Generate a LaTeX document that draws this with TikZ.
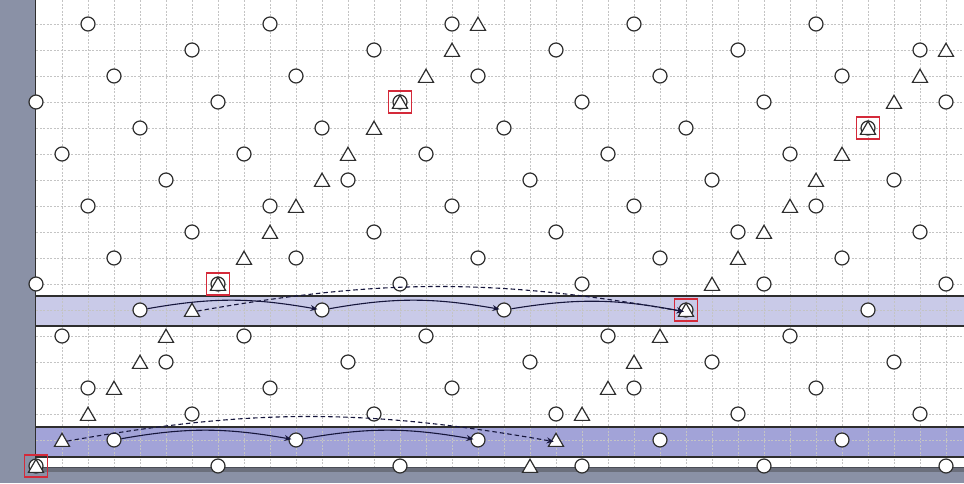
\documentclass[tikz,border=0pt]{standalone}
\usetikzlibrary{shapes.geometric,arrows.meta}
\definecolor{sidegray}{HTML}{8A91A6}
\definecolor{darkstrip}{HTML}{6B6F7C}
\definecolor{bandA}{HTML}{C9CAE8}
\definecolor{bandB}{HTML}{A2A3D8}
\definecolor{edgec}{HTML}{2E2E2E}
\definecolor{boxred}{HTML}{D42A3A}
\definecolor{flowc}{HTML}{16163C}
\definecolor{gridc}{HTML}{C4C4C4}
\begin{document}
\begin{tikzpicture}[x=1pt,y=-1pt,
  dot/.style={circle,draw=edgec,line width=1.2pt,fill=white,minimum size=14pt,inner sep=0pt},
  tri/.style={regular polygon,regular polygon sides=3,draw=edgec,line width=1.2pt,fill=white,minimum size=17.5pt,inner sep=0pt,yshift=-2pt},
  redbox/.style={rectangle,draw=boxred,color=boxred,line width=1.4pt,minimum width=23pt,minimum height=22pt,inner sep=0pt},
  gridl/.style={draw=gridc,line width=0.6pt,dash pattern=on 2pt off 1.5pt},
  bandline/.style={draw=edgec,line width=1.4pt},
  flow/.style={-{Stealth[length=7pt,width=6pt]},draw=flowc,line width=1.1pt,shorten >=-3pt},
  flowd/.style={flow,dash pattern=on 4.5pt off 3pt}]
\useasboundingbox (0,0) rectangle (964,483);
% background
\fill[white] (0,0) rectangle (964,483);
\fill[sidegray] (0,0) rectangle (35,483);
\fill[sidegray] (0,471) rectangle (964,483);
\fill[darkstrip] (35,467) rectangle (964,472);
% bands
\fill[bandA] (36,296) rectangle (964,326);
\fill[bandB] (36,427) rectangle (964,457);
% grid
\foreach \k in {1,...,35} { \draw[gridl] ({36+26*\k},0) -- ({36+26*\k},467); }
\foreach \k in {0,...,16} { \draw[gridl] (36,{24+26*\k}) -- (964,{24+26*\k}); }
% band borders and frame
\draw[bandline] (36,296) -- (964,296);
\draw[bandline] (36,326) -- (964,326);
\draw[bandline] (36,427) -- (964,427);
\draw[bandline] (36,457) -- (964,457);
\draw[draw=edgec,line width=1.6pt] (35.5,0) -- (35.5,467);
\draw[draw=darkstrip!70!black,line width=1pt] (35,467) -- (964,467);
% circles
\foreach \r in {0,...,17} {
  \foreach \c in {0,...,35} {
    \pgfmathtruncatemacro\kk{mod(\c-2+3*\r+70,7)}
    \ifnum\kk=0
      \node[dot] (o-\c-\r) at ({36+26*\c},{24+26*\r}) {};
    \fi
  }
}
% triangles
\foreach \r in {0,...,17} {
  \pgfmathtruncatemacro\ca{17-\r}
  \node[tri] (t-\ca-\r) at ({36+26*\ca},{24+26*\r}) {};
  \ifnum\r>0
    \pgfmathtruncatemacro\cb{36-\r}
    \node[tri] (t-\cb-\r) at ({36+26*\cb},{24+26*\r}) {};
  \fi
}
% red boxes
\foreach \c/\r in {14/3,32/4,7/10,25/11,0/17} {
  \node[redbox] (b-\c-\r) at ({36+26*\c},{24+26*\r}) {};
}
% flows band 1
\draw[flow] (o-4-11) to[bend left=10] (o-11-11);
\draw[flow] (o-11-11) to[bend left=10] (o-18-11);
\draw[flow] (o-18-11) to[bend left=10] (t-25-11);
\draw[flowd] (t-6-11) to[bend left=10] (t-25-11);
% flows band 2
\draw[flow] (o-3-16) to[bend left=10] (o-10-16);
\draw[flow] (o-10-16) to[bend left=10] (o-17-16);
\draw[flowd] (t-1-16) to[bend left=10] (t-20-16);
\end{tikzpicture}
\end{document}
